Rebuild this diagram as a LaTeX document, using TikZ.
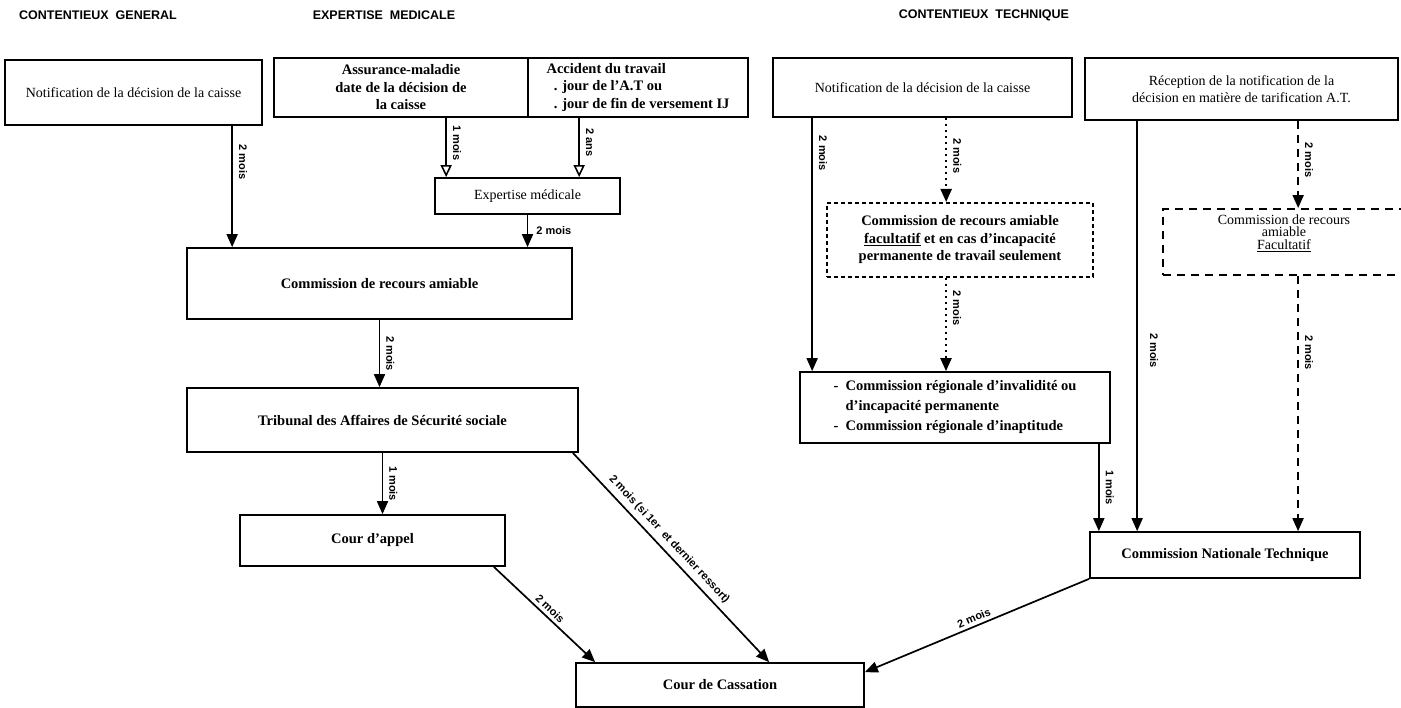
\documentclass[tikz,border=0pt]{standalone}
\usepackage{fontspec}
\setmainfont{Liberation Serif}
\setsansfont{Liberation Sans}
\usetikzlibrary{arrows.meta,calc}

\tikzset{
  box/.style={draw, line width=1.7pt, inner sep=0pt, align=center},
  bt/.style={font=\fontsize{14.5}{17.5}\selectfont\bfseries},
  rt/.style={font=\fontsize{14}{17}\selectfont},
  head/.style={font=\fontsize{12.5}{15}\selectfont\sffamily\bfseries},
  labfont/.style={font=\fontsize{11}{13}\selectfont\sffamily\bfseries},
  lab/.style={labfont, rotate=-90, anchor=south, inner sep=6pt},
  arr/.style={line width=1.7pt, -{Triangle[length=13pt,width=11pt]}},
  oarr/.style={line width=1.7pt, -{Triangle[open,length=12pt,width=11pt,line width=1.6pt]}},
  dotarr/.style={line width=2.2pt, dash pattern=on 2pt off 4pt, -{Triangle[length=13pt,width=11pt]}},
  dasharr/.style={line width=1.9pt, dash pattern=on 8pt off 6pt, -{Triangle[length=13pt,width=11pt]}}
}

\begin{document}
\begin{tikzpicture}[x=1pt, y=-1pt]
  \useasboundingbox (0,0) rectangle (1401,708);

  \node[head] (hgen) at (98,15) {CONTENTIEUX\ \ GENERAL};
  \node[head] (hexp) at (384,15) {EXPERTISE\ \ MEDICALE};
  \node[head] (htech) at (984,15) {CONTENTIEUX\ \ TECHNIQUE};

  \node[box, rt, minimum width=257, minimum height=65] (notifg) at (133.5,92.5) {Notification de la décision de la caisse};
  \node[box, bt, minimum width=254, minimum height=59] (assur) at (401,87.5) {Assurance-maladie\\date de la décision de\\la caisse};
  \node[box, bt, minimum width=220, minimum height=59, align=left] (accid) at (638,87.5) {Accident du travail\\\ \ . jour de l'A.T ou\\\ \ . jour de fin de versement IJ};
  \node[box, rt, minimum width=185, minimum height=36] (expert) at (527.5,196) {Expertise médicale};
  \node[box, bt, minimum width=385, minimum height=71] (crag) at (379.5,283.5) {Commission de recours amiable};
  \node[box, bt, minimum width=391, minimum height=64] (tass) at (382.5,420) {Tribunal des Affaires de Sécurité sociale};
  \node[box, bt, minimum width=265, minimum height=51] (appel) at (372.5,540.5) {Cour d'appel};
  \node[box, bt, minimum width=288, minimum height=44] (cass) at (720,685) {Cour de Cassation};

  \node[box, rt, minimum width=299, minimum height=59] (notift) at (922.5,87.5) {Notification de la décision de la caisse};
  \node[box, rt, minimum width=313, minimum height=62] (recep) at (1241.5,89) {Réception de la notification de la\\décision en matière de tarification A.T.};
  \node[box, bt, minimum width=266, minimum height=74, line width=2pt, dash pattern=on 4pt off 3pt] (craf) at (960,240) {Commission de recours amiable\\\underline{facultatif} et en cas d'incapacité\\permanente de travail seulement};
  \node[box, minimum width=257, minimum height=66, line width=1.9pt, dash pattern=on 8pt off 6pt] (crat) at (1291.5,242) {};
  \node[align=center, inner sep=0pt, font=\fontsize{14}{12.5}\selectfont] (crattxt) at (1284,233) {Commission de recours\\amiable\\\underline{Facultatif}};
  \node[box, minimum width=310, minimum height=71, align=left, font=\fontsize{14.5}{20}\selectfont\bfseries] (crreg) at (955,407.5) {- \ Commission régionale d'invalidité ou\\\phantom{- \ }d'incapacité permanente\\- \ Commission régionale d'inaptitude};
  \node[box, bt, minimum width=270, minimum height=46] (cnt) at (1225,555) {Commission Nationale Technique};

  \coordinate (g1) at ([xshift=228]notifg.south west);
  \draw[arr] (g1) -- (g1 |- crag.north) node[lab, pos=0.3] {2 mois};
  \coordinate (e1) at ([xshift=173]assur.south west);
  \draw[oarr] (e1) -- (e1 |- expert.north) node[lab, pos=0.42] {1 mois};
  \coordinate (e2) at ([xshift=52]accid.south west);
  \draw[oarr] (e2) -- (e2 |- expert.north) node[lab, pos=0.42] {2 ans};
  \draw[arr] (expert.south) -- (expert.south |- crag.north) node[midway, right, labfont, inner sep=8pt] {2 mois};
  \draw[arr] (crag.south) -- (crag.south |- tass.north) node[lab, midway] {2 mois};
  \draw[arr] (tass.south) -- (tass.south |- appel.north) node[lab, midway] {1 mois};
  \draw[arr] ([xshift=-12]appel.south east) -- ([xshift=20]cass.north west) node[midway, sloped, above, labfont] {2 mois};
  \draw[arr] ([xshift=-6]tass.south east) -- ([xshift=194]cass.north west) node[pos=0.45, sloped, above, labfont, inner sep=5pt] {2 mois (si 1er\ \ et dernier ressort)};

  \coordinate (t1) at ([xshift=40]notift.south west);
  \draw[arr] (t1) -- (t1 |- crreg.north) node[lab, pos=0.14] {2 mois};
  \coordinate (t2) at ([xshift=174]notift.south west);
  \draw[dotarr] (t2) -- (t2 |- craf.north) node[lab, pos=0.45] {2 mois};
  \coordinate (t3) at ([xshift=120]craf.south west);
  \draw[dotarr] (t3) -- (t3 |- crreg.north) node[lab, pos=0.32] {2 mois};
  \coordinate (t4) at ([xshift=-12]crreg.south east);
  \draw[arr] (t4) -- (t4 |- cnt.north) node[lab, pos=0.5] {1 mois};
  \coordinate (r1) at ([xshift=53]recep.south west);
  \draw[arr] (r1) -- (r1 |- cnt.north) node[lab, pos=0.56, inner sep=12pt] {2 mois};
  \coordinate (r2) at ([xshift=214]recep.south west);
  \draw[dasharr] (r2) -- (r2 |- crat.north) node[lab, pos=0.45] {2 mois};
  \coordinate (r3) at ([xshift=136]crat.south west);
  \draw[dasharr] (r3) -- (r3 |- cnt.north) node[lab, pos=0.3] {2 mois};
  \draw[arr] (cnt.south west) -- ([yshift=-10]cass.north east) node[midway, sloped, above, labfont] {2 mois};
\end{tikzpicture}
\end{document}
